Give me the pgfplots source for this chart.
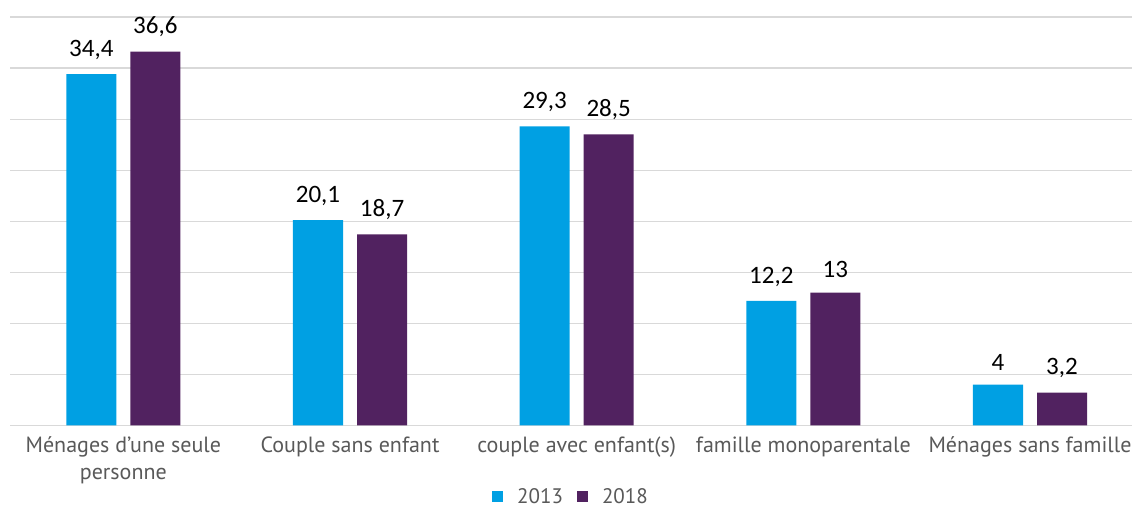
\documentclass[border=0pt]{standalone}
\usepackage{fontspec}
\usepackage{pgfplots}
\pgfplotsset{compat=1.18}
\usetikzlibrary{calc}
\setmainfont{PT Sans}
\newfontfamily\valfont{Carlito}
\definecolor{c2013}{RGB}{0,160,227}
\definecolor{c2018}{RGB}{81,34,96}
\definecolor{gridgray}{RGB}{217,217,217}
\definecolor{labgray}{RGB}{89,89,89}

\begin{document}
\begin{tikzpicture}
\begin{axis}[
    name=ax,
    scale only axis,
    width=1121bp, height=408bp,
    xmin=-0.5, xmax=4.45,
    ymin=0, ymax=40,
    axis x line*=bottom,
    axis y line*=left,
    y axis line style={draw=none},
    x axis line style={gridgray, line width=1.2pt, -},
    ytick={5,10,...,40},
    yticklabels={},
    ymajorgrids, grid style={gridgray, line width=1.2pt},
    xtick={0,1,2,3,4},
    xticklabels={{Ménages d'une seule\\personne}, Couple sans enfant,
        couple avec enfant(s), famille monoparentale, Ménages sans famille},
    xticklabel style={align=center, font=\fontsize{22bp}{27bp}\selectfont,
        text=labgray},
    major tick length=0pt,
    xticklabel shift=8bp,
    clip=false,
    point meta=explicit symbolic,
    nodes near coords,
    legend style={at={(0.5,0)}, anchor=north, yshift=-61bp, draw=none,
        font=\fontsize{21bp}{22bp}\selectfont, text=labgray,
        column sep=12bp, inner sep=0pt},
    legend columns=2,
    legend image code/.code={\fill (0bp,-5.5bp) rectangle (11bp,5.5bp);},
]
\addplot[ybar, bar width=50bp, bar shift=-32bp, fill=c2013, draw=none,
    nodes near coords style={font=\valfont\fontsize{25bp}{28bp}\selectfont,
        text=black, anchor=south, yshift=11bp, xshift=-32bp}]
    coordinates {(0,34.4) [34,4] (1,20.1) [20,1] (2,29.3) [29,3]
                 (3,12.2) [12,2] (4,4) [4]};
\addplot[ybar, bar width=50bp, bar shift=32bp, fill=c2018, draw=none,
    nodes near coords style={font=\valfont\fontsize{25bp}{28bp}\selectfont,
        text=black, anchor=south, yshift=11bp, xshift=32bp}]
    coordinates {(0,36.6) [36,6] (1,18.7) [18,7] (2,28.5) [28,5]
                 (3,13) [13] (4,3.2) [3,2]};
\legend{2013, 2018}
\end{axis}
\pgfresetboundingbox
\path[use as bounding box] ($(ax.south west)+(-10bp,-83bp)$)
    rectangle ($(ax.north east)+(0bp,17bp)$);
\end{tikzpicture}
\end{document}
